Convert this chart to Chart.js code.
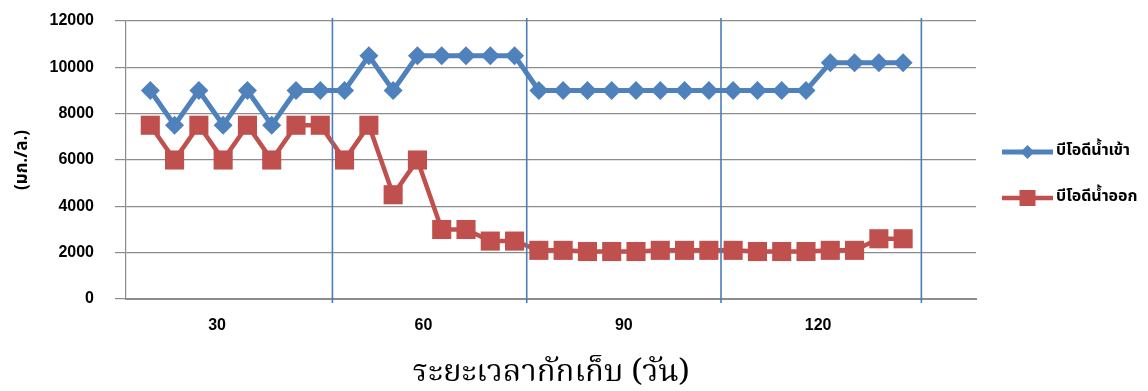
<!DOCTYPE html>
<html>
<head>
<meta charset="utf-8">
<script src="https://cdn.jsdelivr.net/npm/chart.js@4.4.0/dist/chart.umd.min.js"></script>
<style>
  html, body { margin: 0; padding: 0; background: #ffffff; }
  canvas { display: block; }
</style>
</head>
<body>
<canvas id="chart" width="1148" height="391"></canvas>
<script>
// Storage periods (days) shown on the x axis, one label per period of eight samples
const storageDays = ['30', '60', '90', '120'];
// where each period label sits, in sample-number units
const dayTickAt = [3.75, 12.25, 20.5, 28.5];
// period boundaries (sample-number units), drawn as vertical blue rules
const periodBreaks = [8.5, 16.5, 24.5, 32.75];

// y axis ticks (mg/L)
const yTicks = [0, 2000, 4000, 6000, 8000, 10000, 12000];

// BOD of the inflow, one value per sample
const inflowBOD = [
  9000, 7500, 9000, 7500, 9000, 7500, 9000, 9000,
  9000, 10500, 9000, 10500, 10500, 10500, 10500, 10500,
  9000, 9000, 9000, 9000, 9000, 9000, 9000, 9000,
  9000, 9000, 9000, 9000, 10200, 10200, 10200, 10200
];

// BOD of the outflow, one value per sample
const outflowBOD = [
  7500, 6000, 7500, 6000, 7500, 6000, 7500, 7500,
  6000, 7500, 4500, 6000, 3000, 3000, 2500, 2500,
  2100, 2100, 2050, 2050, 2050, 2100, 2100, 2100,
  2100, 2050, 2050, 2050, 2100, 2100, 2600, 2600
];

const seriesNames = ['บีโอดีน้ำเข้า', 'บีโอดีน้ำออก'];

const BLUE = '#4F81BD';
const RED = '#C0504D';
const GRID = '#8C8C8C';
const THAI_FONT = "'Noto Sans Thai', 'Noto Sans', 'DejaVu Sans', sans-serif";
const THAI_SERIF = "'Noto Serif Thai', 'Noto Sans Thai', 'Noto Sans', serif";
const NUM_FONT = "'Liberation Sans', Arial, sans-serif";

const toPoints = arr => arr.map((v, i) => ({ x: i + 1, y: v }));

// vertical rules separating the storage periods
const periodRules = {
  id: 'periodRules',
  afterDatasetsDraw(chart) {
    const { ctx, chartArea, scales } = chart;
    ctx.save();
    ctx.strokeStyle = '#4A7EBB';
    ctx.lineWidth = 1.6;
    periodBreaks.forEach(b => {
      const x = scales.x.getPixelForValue(b);
      ctx.beginPath();
      ctx.moveTo(x, chartArea.top - 3);
      ctx.lineTo(x, chartArea.bottom + 4);
      ctx.stroke();
    });
    ctx.restore();
  }
};

// legend to the right of the plot: line sample, marker, bold label
const sideLegend = {
  id: 'sideLegend',
  afterDraw(chart) {
    const { ctx, chartArea } = chart;
    const x0 = chartArea.right + 26;
    const x1 = chartArea.right + 77;
    const rows = [chartArea.top + 131, chartArea.top + 177];
    ctx.save();
    chart.data.datasets.forEach((ds, i) => {
      const y = rows[i];
      const mx = (x0 + x1) / 2;
      ctx.strokeStyle = ds.borderColor;
      ctx.lineWidth = ds.borderWidth;
      ctx.beginPath();
      ctx.moveTo(x0, y);
      ctx.lineTo(x1, y);
      ctx.stroke();
      ctx.fillStyle = ds.pointBackgroundColor;
      ctx.beginPath();
      if (ds.pointStyle === 'rectRot') {
        const r = 7;
        ctx.moveTo(mx, y - r);
        ctx.lineTo(mx + r, y);
        ctx.lineTo(mx, y + r);
        ctx.lineTo(mx - r, y);
        ctx.closePath();
      } else {
        const h = 8;
        ctx.rect(mx - h, y - h, 2 * h, 2 * h);
      }
      ctx.fill();
      ctx.fillStyle = '#000';
      ctx.font = 'bold 16px ' + THAI_FONT;
      ctx.textAlign = 'left';
      ctx.textBaseline = 'middle';
      ctx.fillText(ds.label, x1 + 3, y);
    });
    ctx.restore();
  }
};

new Chart(document.getElementById('chart'), {
  type: 'line',
  data: {
    datasets: [
      {
        label: seriesNames[0],
        data: toPoints(inflowBOD),
        borderColor: BLUE,
        backgroundColor: BLUE,
        pointBackgroundColor: BLUE,
        pointBorderColor: BLUE,
        borderWidth: 5,
        pointStyle: 'rectRot',
        pointRadius: 9.5,
        pointBorderWidth: 0,
        tension: 0,
        fill: false
      },
      {
        label: seriesNames[1],
        data: toPoints(outflowBOD),
        borderColor: RED,
        backgroundColor: RED,
        pointBackgroundColor: RED,
        pointBorderColor: RED,
        borderWidth: 4.5,
        pointStyle: 'rect',
        pointRadius: 13.5,
        pointBorderWidth: 0,
        tension: 0,
        fill: false
      }
    ]
  },
  options: {
    responsive: false,
    animation: false,
    devicePixelRatio: 1,
    events: [],
    layout: { padding: { top: 21, right: 172, bottom: 0, left: 0 } },
    plugins: {
      legend: { display: false },
      tooltip: { enabled: false }
    },
    scales: {
      x: {
        type: 'linear',
        min: 0,
        max: 35,
        afterBuildTicks: s => { s.ticks = dayTickAt.map(v => ({ value: v })); },
        afterFit: s => { s.height = 92; },
        ticks: {
          callback: (v, i) => storageDays[i],
          color: '#000',
          font: { family: NUM_FONT, size: 16, weight: 'bold' },
          padding: 17,
          autoSkip: false,
          maxRotation: 0
        },
        grid: { display: false, drawTicks: false },
        border: { color: GRID, width: 2 },
        title: {
          display: true,
          text: 'ระยะเวลากักเก็บ (วัน)',
          color: '#000',
          font: { family: THAI_SERIF, size: 31, weight: 'normal', lineHeight: 1.0 },
          padding: { top: 0, bottom: 0 }
        }
      },
      y: {
        min: 0,
        max: 12000,
        afterBuildTicks: s => { s.ticks = yTicks.map(v => ({ value: v })); },
        afterFit: s => {
          s.width = 126;
          // labels sit beside their gridlines; no extra room needed above/below the plot
          s.paddingTop = 0;
          s.paddingBottom = 0;
        },
        ticks: {
          callback: v => String(v),
          color: '#000',
          font: { family: NUM_FONT, size: 16, weight: 'bold' },
          padding: 21
        },
        grid: { color: GRID, lineWidth: 1.2, tickLength: 11 },
        border: { color: GRID, width: 1.2 },
        title: {
          display: true,
          text: '(มก./ล.)',
          color: '#000',
          font: { family: THAI_FONT, size: 17, weight: 'bold' },
          padding: { top: 13, bottom: 0 }
        }
      }
    }
  },
  plugins: [periodRules, sideLegend]
});
</script>
</body>
</html>
